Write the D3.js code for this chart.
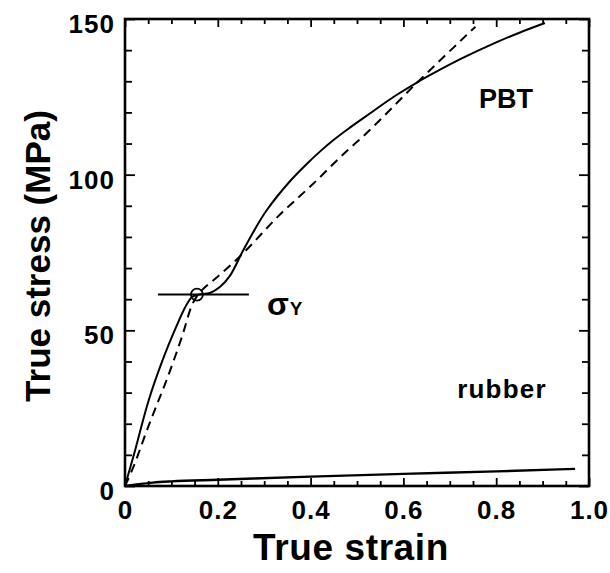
<!DOCTYPE html>
<html>
<head>
<meta charset="utf-8">
<script src="https://cdn.jsdelivr.net/npm/d3@7"></script>
<style>
  body { margin: 0; background: #fff; }
  svg { display: block; font-family: "Liberation Sans", Arial, Helvetica, sans-serif; font-weight: bold; }
  .tick text { font-size: 26px; font-weight: bold; fill: #000; letter-spacing: 1px; }
  .tick line { stroke: #000; stroke-width: 1.8; }
</style>
</head>
<body>
<div id="chart"></div>
<script>
// PBT measured curve (solid)
const pbtStrain = [0, 0.02, 0.05, 0.08, 0.11, 0.13, 0.145, 0.16, 0.183, 0.205, 0.226, 0.254, 0.28, 0.305, 0.355, 0.39, 0.42, 0.45, 0.48, 0.534, 0.58, 0.629, 0.68, 0.728, 0.8, 0.85, 0.905];
const pbtStress = [0, 10.5, 27, 40, 51, 57.5, 60.8, 61.5, 62, 64, 67.5, 75.5, 82.5, 88.5, 97.8, 103.2, 107.4, 111.2, 114.6, 120.3, 125.1, 129.6, 133.8, 137.5, 142.5, 145.6, 148.7];

// PBT model curve (dashed)
const fitStrain = [0, 0.015, 0.05, 0.097, 0.125, 0.144, 0.155, 0.17, 0.19, 0.248, 0.334, 0.405, 0.478, 0.513, 0.629, 0.755];
const fitStress = [0, 5, 19, 37, 49, 58, 61, 63.5, 66, 73.8, 87.2, 97, 107.6, 112.3, 129.5, 147.5];

// rubber
const rubberStrain = [0, 0.03, 0.06, 0.1, 0.2, 0.4, 0.6, 0.8, 0.97];
const rubberStress = [0, 0.6, 1.1, 1.5, 2.0, 3.0, 3.9, 4.7, 5.5];

// yield point
const yieldStrain = 0.155;
const yieldStress = 61.5;
const yieldLine = [0.071, 0.267];

const xTicks = [0, 0.2, 0.4, 0.6, 0.8, 1.0];
const yTicks = [0, 50, 100, 150];

const width = 610, height = 573;
const margin = {top: 19, right: 21, bottom: 87, left: 125};

const svg = d3.select("#chart").append("svg")
  .attr("width", width)
  .attr("height", height);

const x = d3.scaleLinear().domain([0, 1]).range([margin.left, width - margin.right]);
const y = d3.scaleLinear().domain([0, 150]).range([height - margin.bottom, margin.top]);

const minorX = d3.range(0, 1.0001, 0.05).filter(v => xTicks.every(t => Math.abs(t - v) > 1e-6));
const minorY = d3.range(0, 151, 10).filter(v => yTicks.indexOf(v) < 0);

function fmtX(d) { return d === 0 ? "0" : d3.format(".1f")(d); }

// bottom axis with labels
svg.append("g")
  .attr("transform", "translate(0," + y(0) + ")")
  .call(d3.axisBottom(x).tickValues(xTicks).tickSize(-8).tickPadding(15).tickFormat(fmtX))
  .call(g => g.select(".domain").remove());
svg.append("g")
  .attr("transform", "translate(0," + y(0) + ")")
  .call(d3.axisBottom(x).tickValues(minorX).tickSize(-5).tickFormat(""))
  .call(g => g.select(".domain").remove());

// top axis, ticks only
svg.append("g")
  .attr("transform", "translate(0," + y(150) + ")")
  .call(d3.axisTop(x).tickValues(xTicks).tickSize(-8).tickFormat(""))
  .call(g => g.select(".domain").remove());
svg.append("g")
  .attr("transform", "translate(0," + y(150) + ")")
  .call(d3.axisTop(x).tickValues(minorX).tickSize(-5).tickFormat(""))
  .call(g => g.select(".domain").remove());

// left axis with labels
svg.append("g")
  .attr("transform", "translate(" + x(0) + ",0)")
  .call(d3.axisLeft(y).tickValues(yTicks).tickSize(-10).tickPadding(10))
  .call(g => g.select(".domain").remove())
  .call(g => g.selectAll("text").attr("dy", "0.52em"));
svg.append("g")
  .attr("transform", "translate(" + x(0) + ",0)")
  .call(d3.axisLeft(y).tickValues(minorY).tickSize(-7).tickFormat(""))
  .call(g => g.select(".domain").remove());

// right axis, ticks only
svg.append("g")
  .attr("transform", "translate(" + x(1) + ",0)")
  .call(d3.axisRight(y).tickValues(yTicks).tickSize(-10).tickFormat(""))
  .call(g => g.select(".domain").remove());
svg.append("g")
  .attr("transform", "translate(" + x(1) + ",0)")
  .call(d3.axisRight(y).tickValues(minorY).tickSize(-7).tickFormat(""))
  .call(g => g.select(".domain").remove());

// frame
svg.append("rect")
  .attr("x", x(0)).attr("y", y(150))
  .attr("width", x(1) - x(0)).attr("height", y(0) - y(150))
  .attr("fill", "none").attr("stroke", "#000").attr("stroke-width", 2.6);

const line = d3.line()
  .x(d => x(d[0]))
  .y(d => y(d[1]))
  .curve(d3.curveMonotoneX);

const smooth = d3.line()
  .x(d => x(d[0]))
  .y(d => y(d[1]))
  .curve(d3.curveCatmullRom.alpha(0.5));

// dashed model
svg.append("path")
  .datum(fitStrain.map((s, i) => [s, fitStress[i]]))
  .attr("d", line)
  .attr("fill", "none").attr("stroke", "#000")
  .attr("stroke-width", 2).attr("stroke-dasharray", "9,6");

// solid PBT
svg.append("path")
  .datum(pbtStrain.map((s, i) => [s, pbtStress[i]]))
  .attr("d", smooth)
  .attr("fill", "none").attr("stroke", "#000")
  .attr("stroke-width", 2);

// rubber
svg.append("path")
  .datum(rubberStrain.map((s, i) => [s, rubberStress[i]]))
  .attr("d", line)
  .attr("fill", "none").attr("stroke", "#000")
  .attr("stroke-width", 2.4);

// yield marker
svg.append("line")
  .attr("x1", x(yieldLine[0])).attr("x2", x(yieldLine[1]))
  .attr("y1", y(yieldStress)).attr("y2", y(yieldStress))
  .attr("stroke", "#000").attr("stroke-width", 2);
svg.append("circle")
  .attr("cx", x(yieldStrain)).attr("cy", y(yieldStress))
  .attr("r", 6)
  .attr("fill", "none").attr("stroke", "#000").attr("stroke-width", 1.8);

// annotations
const sigma = svg.append("text")
  .attr("x", x(0.306)).attr("y", y(54.8))
  .style("font-size", "32px");
sigma.append("tspan").text("σ");
sigma.append("tspan").text("Y").style("font-size", "19px").attr("dx", "1");

svg.append("text")
  .attr("x", x(0.763)).attr("y", y(121.4))
  .style("font-size", "27px")
  .text("PBT");

svg.append("text")
  .attr("x", x(0.716)).attr("y", y(28.3))
  .style("font-size", "26px")
  .style("letter-spacing", "1.2px")
  .text("rubber");

// axis titles
svg.append("text")
  .attr("x", 351).attr("y", 560)
  .attr("text-anchor", "middle")
  .style("font-size", "37px")
  .style("letter-spacing", "0.6px")
  .text("True strain");

svg.append("text")
  .attr("transform", "translate(50,256) rotate(-90)")
  .attr("text-anchor", "middle")
  .style("font-size", "35px")
  .text("True stress (MPa)");
</script>
</body>
</html>
